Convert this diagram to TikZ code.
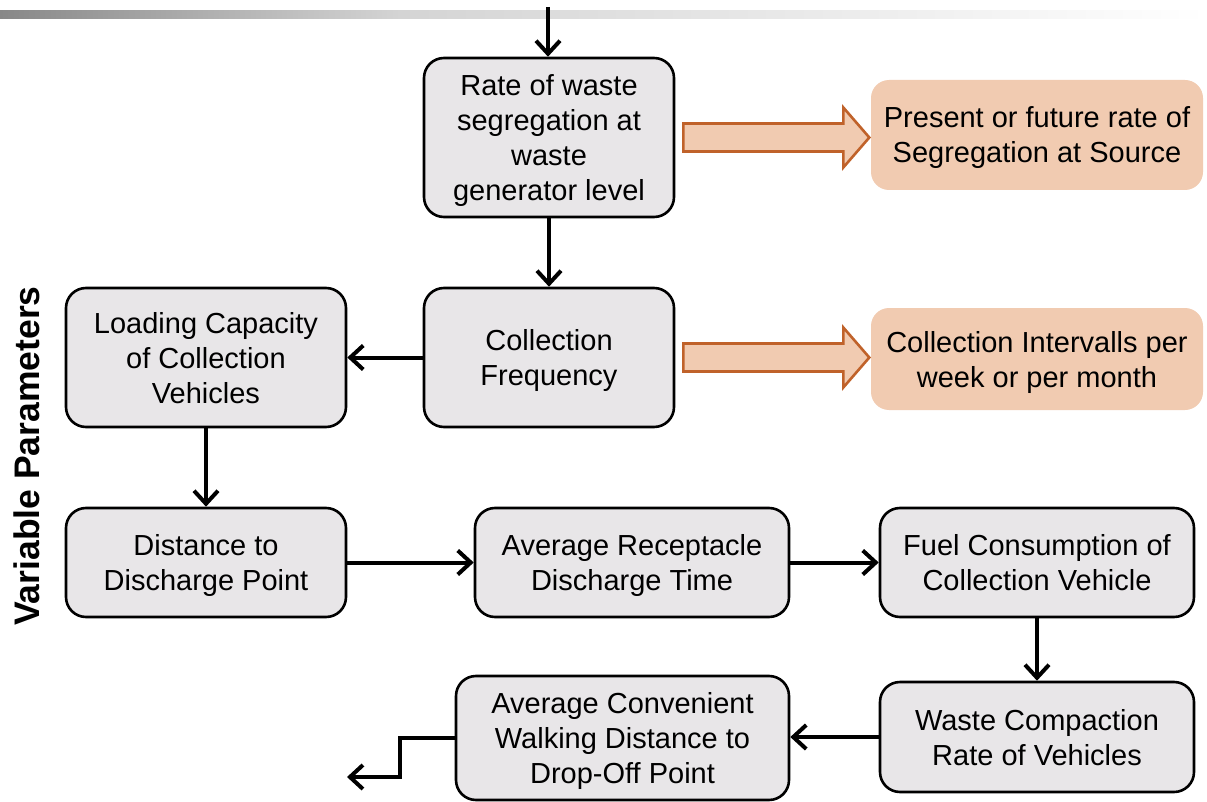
\documentclass[tikz,border=0pt]{standalone}
\usepackage{fontspec}
\setmainfont{Liberation Sans}
\usetikzlibrary{arrows.meta,calc}
\definecolor{boxfill}{RGB}{232,230,232}
\definecolor{notefill}{RGB}{241,203,177}
\definecolor{noteedge}{RGB}{192,98,42}
\tikzset{
  param/.style={draw=black, line width=2.6pt, fill=boxfill, rounded corners=20pt,
    align=center, font=\fontsize{29}{35}\selectfont, inner sep=0pt,
    text depth=-2pt},
  note/.style={fill=notefill, rounded corners=18pt, align=center,
    font=\fontsize{29}{35}\selectfont, inner sep=0pt,
    text depth=-3pt},
  flow/.style={line width=4pt, -{Straight Barb[length=13pt,width=24pt,line width=4pt]}},
  blockarrow/.style={draw=noteedge, fill=notefill, line width=2.6pt, line join=miter},
}
\begin{document}
\begin{tikzpicture}[x=1pt,y=-1pt]
\useasboundingbox (0,0) rectangle (1207,802);
% header rule
\shade[left color={rgb,255:red,136;green,136;blue,136}, right color={rgb,255:red,212;green,212;blue,212}] (0,11) rectangle (400,19);
\shade[left color={rgb,255:red,212;green,212;blue,212}, right color=white] (400,11) rectangle (1207,19);

% parameter boxes
\node[param, minimum width=250pt, minimum height=159pt] (R) at (549,137.5)
  {Rate of waste\\segregation at\\waste\\generator level};
\node[param, minimum width=250pt, minimum height=139pt] (CF) at (549,357.5)
  {Collection\\Frequency};
\node[param, minimum width=280pt, minimum height=139pt] (LC) at (206,357.5)
  {Loading Capacity\\of Collection\\Vehicles};
\node[param, minimum width=280pt, minimum height=109pt] (DD) at (206,562.5)
  {Distance to\\Discharge Point};
\node[param, minimum width=314pt, minimum height=109pt] (AR) at (632,562.5)
  {Average Receptacle\\Discharge Time};
\node[param, minimum width=314pt, minimum height=109pt] (FC) at (1037,562.5)
  {Fuel Consumption of\\Collection Vehicle};
\node[param, minimum width=314pt, minimum height=110pt] (WC) at (1037,737)
  {Waste Compaction\\Rate of Vehicles};
\node[param, minimum width=333pt, minimum height=124pt] (AW) at (622.5,738)
  {Average Convenient\\Walking Distance to\\Drop-Off Point};

% notes
\node[note, minimum width=332pt, minimum height=110pt] (N1) at (1037,135)
  {Present or future rate of\\Segregation at Source};
\node[note, minimum width=332pt, minimum height=102pt] (N2) at (1037,359)
  {Collection Intervalls per\\week or per month};

% side label
\node[rotate=90, font=\bfseries\fontsize{35.5}{40}\selectfont] (VP) at (27,456) {Variable Parameters};

% block arrows to the notes
\draw[blockarrow] ($(R.east)+(8,-14)$) -- ++(160,0) -- ++(0,-16) -- ++(26,30)
  -- ++(-26,30) -- ++(0,-16) -- ++(-160,0) -- cycle;
\draw[blockarrow] ($(CF.east)+(8,-14)$) -- ++(160,0) -- ++(0,-16) -- ++(26,30)
  -- ++(-26,30) -- ++(0,-16) -- ++(-160,0) -- cycle;

% flow connectors
\coordinate (in) at (548,7);
\coordinate (bend) at (400,777);
\coordinate (out) at (347,777);
\draw[flow] (in) -- (R.north -| in);
\draw[flow] (R.south) -- (CF.north);
\draw[flow] (CF.west) -- (LC.east);
\draw[flow] (LC.south) -- (DD.north);
\draw[flow] (DD.east) -- (AR.west);
\draw[flow] (AR.east) -- (FC.west);
\draw[flow] (FC.south) -- (WC.north);
\draw[flow] (WC.west) -- (WC.west -| AW.east);
\draw[flow] (AW.west) -- (AW.west -| bend) -- (bend) -- (out);
\end{tikzpicture}
\end{document}
